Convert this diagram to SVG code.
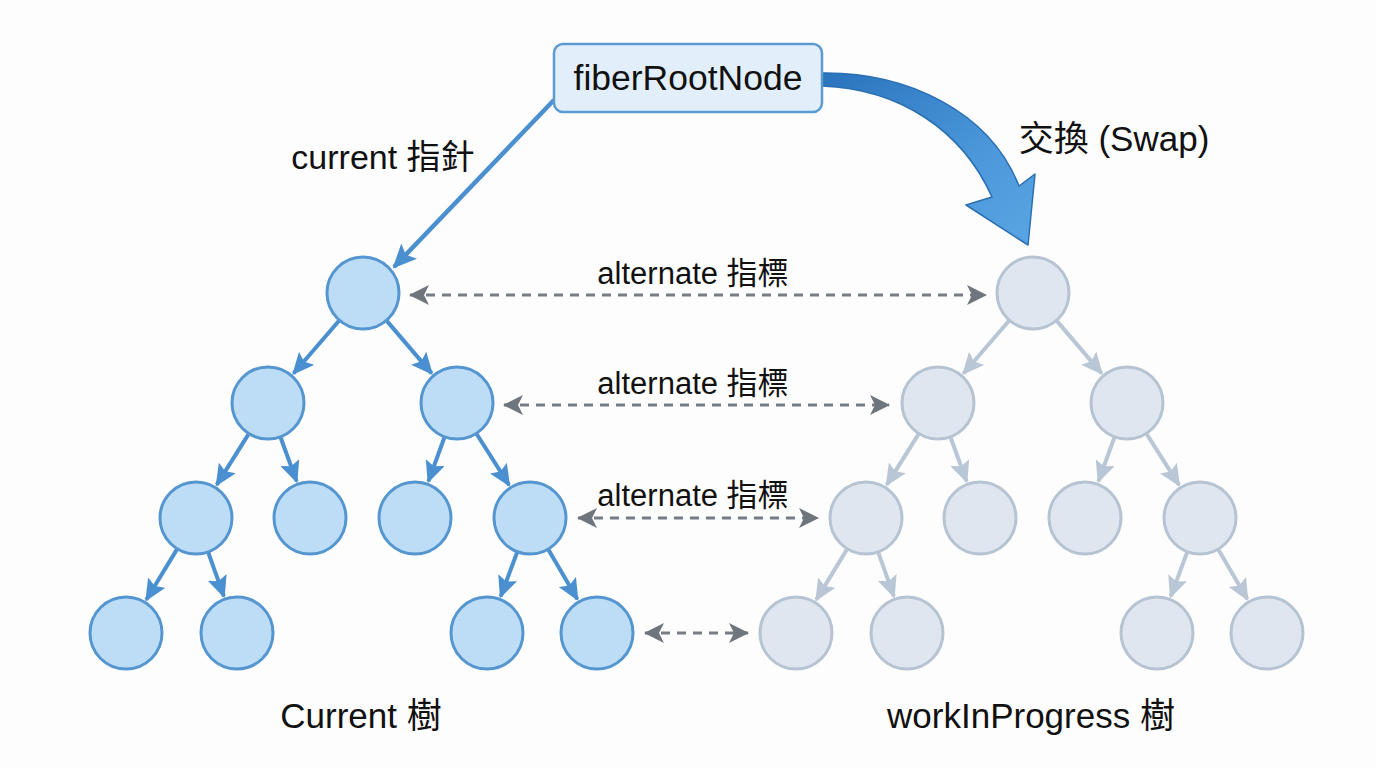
<svg xmlns="http://www.w3.org/2000/svg" width="1376" height="768" viewBox="0 0 1376 768">
<style>
  text { font-family: "Liberation Sans", "Noto Sans CJK TC", sans-serif; fill: #111; }
  .cur circle { fill: #bddcf5; stroke: #5596d0; stroke-width: 3; }
  .wip circle { fill: #dfe6ef; stroke: #b6c3d2; stroke-width: 3; }
  .ecur { stroke: #4a8fcf; stroke-width: 4; fill: none; marker-end: url(#ahCur); }
  .ewip { stroke: #b9c6d5; stroke-width: 4; fill: none; marker-end: url(#ahWip); }
  .alt { stroke: #767c83; stroke-width: 2.8; stroke-dasharray: 9 7; fill: none; marker-start: url(#ahAltS); marker-end: url(#ahAltE); }
  .lbl { font-size: 31px; text-anchor: middle; }
</style>
<defs>
  <marker id="ahCur" markerUnits="userSpaceOnUse" markerWidth="22" markerHeight="20" viewBox="0 0 22 20" refX="20" refY="10" orient="auto">
    <path d="M0,0 L22,10 L0,20 L4,10 Z" fill="#4a8fcf"/>
  </marker>
  <marker id="ahWip" markerUnits="userSpaceOnUse" markerWidth="22" markerHeight="20" viewBox="0 0 22 20" refX="20" refY="10" orient="auto">
    <path d="M0,0 L22,10 L0,20 L4,10 Z" fill="#b9c6d5"/>
  </marker>
  <marker id="ahAltE" markerUnits="userSpaceOnUse" markerWidth="20" markerHeight="20" viewBox="0 0 20 20" refX="19" refY="10" orient="auto">
    <path d="M0,0 L20,10 L0,20 L5,10 Z" fill="#6f757c"/>
  </marker>
  <marker id="ahAltS" markerUnits="userSpaceOnUse" markerWidth="20" markerHeight="20" viewBox="0 0 20 20" refX="1" refY="10" orient="auto">
    <path d="M20,0 L0,10 L20,20 L15,10 Z" fill="#6f757c"/>
  </marker>
  <linearGradient id="swapGrad" x1="0" y1="0" x2="1" y2="1">
    <stop offset="0" stop-color="#2a73bd"/>
    <stop offset="0.6" stop-color="#4b97da"/>
    <stop offset="1" stop-color="#5aa5e2"/>
  </linearGradient>
  <marker id="ahPtr" markerUnits="userSpaceOnUse" markerWidth="24" markerHeight="22" viewBox="0 0 24 22" refX="22" refY="11" orient="auto">
    <path d="M0,0 L24,11 L0,22 L5,11 Z" fill="#4a8fcf"/>
  </marker>
</defs>
<rect width="1376" height="768" fill="#fdfdfd"/>

<g id="connectors">
  <!-- current pointer -->
  <line x1="554" y1="100" x2="394" y2="267" stroke="#4a8fcf" stroke-width="4.5" marker-end="url(#ahPtr)"/>
  <!-- swap arrow -->
  <path d="M822,73 C908,72 990,112 1019,186 L1035,174 L1028,245 L966,205 L992,197 C962,130 900,89 822,86 Z" fill="url(#swapGrad)" stroke="#2a6fb2" stroke-width="1.5" stroke-linejoin="round"/>
  <!-- current tree edges -->
  <line class="ecur" x1="338.8" y1="321" x2="293.5" y2="373.5"/>
  <line class="ecur" x1="387" y1="321.1" x2="431.7" y2="373.4"/>
  <line class="ecur" x1="248.4" y1="434.4" x2="216.7" y2="484.9"/>
  <line class="ecur" x1="280.7" y1="437.7" x2="296.6" y2="481.4"/>
  <line class="ecur" x1="444.3" y1="437.7" x2="428.4" y2="481.4"/>
  <line class="ecur" x1="476.8" y1="434.2" x2="509.1" y2="485.1"/>
  <line class="ecur" x1="176.8" y1="549.6" x2="146.3" y2="599.7"/>
  <line class="ecur" x1="208.4" y1="552.9" x2="223.9" y2="596.3"/>
  <line class="ecur" x1="517" y1="552.6" x2="500.7" y2="596.5"/>
  <line class="ecur" x1="548.6" y1="550" x2="577.4" y2="599.3"/>
  <!-- wip tree edges -->
  <line class="ewip" x1="1008.8" y1="321" x2="963.5" y2="373.5"/>
  <line class="ewip" x1="1057" y1="321.1" x2="1101.7" y2="373.4"/>
  <line class="ewip" x1="918.4" y1="434.4" x2="886.7" y2="484.9"/>
  <line class="ewip" x1="950.7" y1="437.7" x2="966.6" y2="481.4"/>
  <line class="ewip" x1="1114.3" y1="437.7" x2="1098.4" y2="481.4"/>
  <line class="ewip" x1="1146.8" y1="434.2" x2="1179.1" y2="485.1"/>
  <line class="ewip" x1="846.8" y1="549.6" x2="816.3" y2="599.7"/>
  <line class="ewip" x1="878.4" y1="552.9" x2="893.9" y2="596.3"/>
  <line class="ewip" x1="1187" y1="552.6" x2="1170.7" y2="596.5"/>
  <line class="ewip" x1="1218.6" y1="550" x2="1247.4" y2="599.3"/>
  <!-- alternate links -->
  <line class="alt" x1="410" y1="295" x2="986" y2="295"/>
  <line class="alt" x1="504" y1="405" x2="889" y2="405"/>
  <line class="alt" x1="578" y1="518" x2="818" y2="518"/>
  <line class="alt" x1="645" y1="633" x2="748" y2="633"/>
</g>

<g id="fiberRootNode">
  <rect x="554" y="44" width="268" height="68" rx="9" fill="#e2effa" stroke="#5b9bd2" stroke-width="2.5"/>
  <text x="688" y="90" font-size="35.5" text-anchor="middle">fiberRootNode</text>
</g>

<g id="current-tree" class="cur">
  <g id="c-root"><circle cx="363" cy="293" r="36"/></g>
  <g id="c-l2a"><circle cx="268" cy="403" r="36"/></g>
  <g id="c-l2b"><circle cx="457" cy="403" r="36"/></g>
  <g id="c-l3a"><circle cx="196" cy="518" r="36"/></g>
  <g id="c-l3b"><circle cx="310" cy="518" r="36"/></g>
  <g id="c-l3c"><circle cx="415" cy="518" r="36"/></g>
  <g id="c-l3d"><circle cx="530" cy="518" r="36"/></g>
  <g id="c-l4a"><circle cx="126" cy="633" r="36"/></g>
  <g id="c-l4b"><circle cx="237" cy="633" r="36"/></g>
  <g id="c-l4c"><circle cx="487" cy="633" r="36"/></g>
  <g id="c-l4d"><circle cx="597" cy="633" r="36"/></g>
</g>

<g id="wip-tree" class="wip">
  <g id="w-root"><circle cx="1033" cy="293" r="36"/></g>
  <g id="w-l2a"><circle cx="938" cy="403" r="36"/></g>
  <g id="w-l2b"><circle cx="1127" cy="403" r="36"/></g>
  <g id="w-l3a"><circle cx="866" cy="518" r="36"/></g>
  <g id="w-l3b"><circle cx="980" cy="518" r="36"/></g>
  <g id="w-l3c"><circle cx="1085" cy="518" r="36"/></g>
  <g id="w-l3d"><circle cx="1200" cy="518" r="36"/></g>
  <g id="w-l4a"><circle cx="796" cy="633" r="36"/></g>
  <g id="w-l4b"><circle cx="907" cy="633" r="36"/></g>
  <g id="w-l4c"><circle cx="1157" cy="633" r="36"/></g>
  <g id="w-l4d"><circle cx="1267" cy="633" r="36"/></g>
</g>

<g id="labels">
  <text x="383" y="169" font-size="34" text-anchor="middle">current 指針</text>
  <text x="1114" y="151" font-size="35" text-anchor="middle">交換 (Swap)</text>
  <text class="lbl" x="693" y="284">alternate 指標</text>
  <text class="lbl" x="693" y="394">alternate 指標</text>
  <text class="lbl" x="693" y="506">alternate 指標</text>
  <text x="361" y="728" font-size="35" text-anchor="middle">Current 樹</text>
  <text x="1031" y="728" font-size="35" text-anchor="middle">workInProgress 樹</text>
</g>
</svg>
